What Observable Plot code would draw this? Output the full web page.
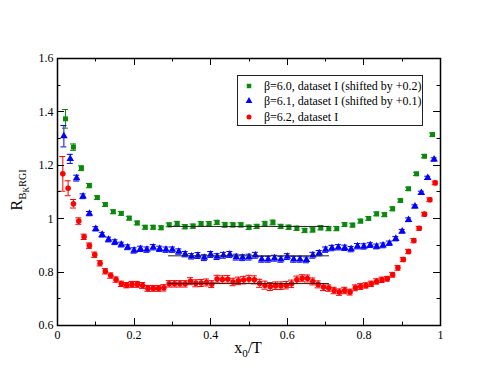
<!DOCTYPE html>
<html><head><meta charset="utf-8">
<script src="https://cdn.jsdelivr.net/npm/d3@7"></script>
<script src="https://cdn.jsdelivr.net/npm/@observablehq/plot@0.6"></script>
<style>
html,body{margin:0;padding:0;background:#fff;}
#chart{position:relative;width:495px;height:383px;overflow:hidden;}
#legend{position:absolute;left:237px;top:75px;width:184px;height:49px;border:1px solid #222;background:#fff;
  font-family:"Liberation Serif","Times New Roman",serif;font-size:12px;color:#000;}
#legend .row{position:absolute;left:0;height:15px;line-height:15px;white-space:nowrap;}
#legend svg{position:absolute;left:6px;top:2px;}
#legend span{position:absolute;left:26px;top:0;}
</style></head><body>
<div id="chart"><div id="legend"></div></div>
<script>
// ---- data ----
const seriesNames = ["β=6.0, dataset I (shifted by +0.2)", "β=6.1, dataset I (shifted by +0.1)", "β=6.2, dataset I"];
const seriesColors = ["#0a8a0a", "#0000ff", "#ff0000"];
const seriesSymbols = ["square", "triangle", "circle"];
const timeExtents = [48, 60, 72];

const beta60 = [
  1.374,1.268,1.189,1.124,1.079,1.053,1.026,1.020,1.002,0.984,
  0.968,0.968,0.966,0.977,0.982,0.970,0.972,0.981,0.981,0.986,
  0.977,0.977,0.977,0.968,0.971,0.981,0.986,0.971,0.968,0.964,
  0.956,0.958,0.966,0.963,0.963,0.978,0.976,0.991,1.001,1.018,
  1.015,1.037,1.068,1.112,1.168,1.234,1.315];
const beta60Err = [
  0.035,0.012,0.009,0.008,0.007,0.007,0.007,0.007,0.007,0.007,
  0.007,0.007,0.007,0.007,0.008,0.008,0.008,0.008,0.008,0.008,
  0.009,0.008,0.008,0.008,0.008,0.009,0.009,0.008,0.008,0.008,
  0.008,0.008,0.008,0.008,0.008,0.007,0.007,0.007,0.007,0.007,
  0.007,0.007,0.006,0.006,0.006,0.006,0.006];

const beta61 = [
  1.309,1.224,1.152,1.084,1.019,0.962,0.940,0.922,0.912,0.903,
  0.893,0.881,0.887,0.884,0.893,0.887,0.884,0.884,0.877,0.867,
  0.859,0.862,0.854,0.866,0.858,0.863,0.866,0.856,0.854,0.856,
  0.863,0.848,0.848,0.852,0.848,0.858,0.848,0.848,0.846,0.863,
  0.871,0.884,0.890,0.893,0.891,0.886,0.897,0.896,0.901,0.896,
  0.900,0.908,0.925,0.953,0.996,1.046,1.097,1.153,1.222];
const beta61Err = [
  0.040,0.017,0.011,0.009,0.008,0.008,0.009,0.009,0.009,0.009,
  0.009,0.010,0.010,0.010,0.010,0.010,0.010,0.010,0.010,0.010,
  0.010,0.011,0.011,0.011,0.011,0.011,0.011,0.011,0.011,0.011,
  0.011,0.011,0.011,0.011,0.011,0.011,0.011,0.011,0.011,0.011,
  0.010,0.010,0.010,0.010,0.010,0.010,0.010,0.010,0.009,0.009,
  0.009,0.008,0.008,0.007,0.007,0.006,0.006,0.006,0.006];

const beta62 = [
  1.168,1.114,1.056,0.991,0.932,0.899,0.865,0.833,0.803,0.787,
  0.772,0.756,0.751,0.754,0.754,0.750,0.739,0.739,0.739,0.741,
  0.756,0.756,0.756,0.756,0.766,0.758,0.759,0.761,0.755,0.774,
  0.772,0.773,0.763,0.767,0.770,0.773,0.771,0.758,0.751,0.746,
  0.749,0.749,0.751,0.756,0.771,0.777,0.776,0.765,0.754,0.744,
  0.740,0.731,0.725,0.731,0.725,0.741,0.746,0.750,0.756,0.765,
  0.771,0.775,0.790,0.816,0.847,0.877,0.918,0.964,1.017,1.071,1.134];
const beta62Err = [
  0.065,0.028,0.016,0.012,0.010,0.010,0.010,0.010,0.010,0.010,
  0.010,0.010,0.010,0.011,0.011,0.011,0.011,0.011,0.011,0.012,
  0.012,0.012,0.012,0.012,0.013,0.013,0.013,0.013,0.013,0.014,
  0.014,0.014,0.014,0.014,0.014,0.015,0.015,0.015,0.015,0.015,
  0.014,0.014,0.014,0.014,0.014,0.013,0.013,0.013,0.013,0.013,
  0.012,0.012,0.012,0.012,0.011,0.011,0.011,0.010,0.010,0.010,
  0.010,0.009,0.009,0.009,0.008,0.008,0.008,0.007,0.007,0.007,0.007];

// plateau fits
const plateauValues = [0.971, 0.861, 0.757];
const plateauStart = [0.29, 0.29, 0.29];
const plateauEnd = [0.71, 0.71, 0.71];

// axes
const xDomain = [0, 1];
const yDomain = [0.6, 1.6];
const xMajorTicks = [0, 0.2, 0.4, 0.6, 0.8, 1];
const xMinorTicks = [0.1, 0.3, 0.5, 0.7, 0.9];
const yMajorTicks = [0.6, 0.8, 1.0, 1.2, 1.4, 1.6];
const yMinorTicks = [0.7, 0.9, 1.1, 1.3, 1.5];

// ---- build table ----
const allVals = [beta60, beta61, beta62];
const allErrs = [beta60Err, beta61Err, beta62Err];
const rows = allVals.flatMap((vals, s) => vals.map((v, i) => ({
  series: seriesNames[s], x: (i + 1) / timeExtents[s], y: v, e: allErrs[s][i]
})));
const plateauRows = plateauValues.map((v, i) => ({v, x1: plateauStart[i], x2: plateauEnd[i]}));

const fmt = d => String(+d.toFixed(2));
const font = '"Liberation Serif","Times New Roman",serif';
const MAJ = 7, MIN = 3.5;

const chart = Plot.plot({
  width: 495, height: 383,
  marginLeft: 57, marginRight: 55, marginTop: 58, marginBottom: 58,
  style: {fontFamily: font, fontSize: "12px", background: "#fff", color: "#000", overflow: "visible"},
  x: {domain: xDomain, label: null},
  y: {domain: yDomain, label: null},
  color: {domain: seriesNames, range: seriesColors},
  symbol: {domain: seriesNames, range: seriesSymbols},
  marks: [
    Plot.ruleX(rows, {x: "x", y1: d => d.y - d.e, y2: d => d.y + d.e, stroke: "series", strokeWidth: 1}),
    Plot.ruleY(rows, {y: d => d.y + d.e, x1: "x", x2: "x", insetLeft: -3, insetRight: -3, stroke: "series", strokeWidth: 1}),
    Plot.ruleY(rows, {y: d => d.y - d.e, x1: "x", x2: "x", insetLeft: -3, insetRight: -3, stroke: "series", strokeWidth: 1}),
    Plot.dot(rows, {x: "x", y: "y", symbol: "series", fill: "series", r: 2.8}),
    Plot.ruleY(plateauRows, {y: "v", x1: "x1", x2: "x2", stroke: "#222", strokeWidth: 1}),
    Plot.frame({stroke: "#000", strokeWidth: 1.5}),
    Plot.axisX(xMajorTicks, {anchor: "bottom", tickSize: 0, tickPadding: 5, tickFormat: fmt, label: null, fontSize: 12}),
    Plot.axisY(yMajorTicks, {anchor: "left", tickSize: 0, tickPadding: 4, tickFormat: fmt, label: null, fontSize: 12})
  ]
});
document.getElementById("chart").prepend(chart);

// inward ticks on all four sides, placed with Plot's own scales
const svg = d3.select(chart);
const sx = chart.scale("x"), sy = chart.scale("y");
const X0 = sx.apply(xDomain[0]), X1 = sx.apply(xDomain[1]);
const Y0 = sy.apply(yDomain[0]), Y1 = sy.apply(yDomain[1]);
const tg = svg.append("g").attr("stroke", "#000").attr("stroke-width", 1);
[[xMajorTicks, MAJ], [xMinorTicks, MIN]].forEach(([ticks, len]) => ticks.forEach(t => {
  const px = Math.round(sx.apply(t)) + 0.5;
  tg.append("line").attr("x1", px).attr("x2", px).attr("y1", Y0).attr("y2", Y0 - len);
  tg.append("line").attr("x1", px).attr("x2", px).attr("y1", Y1).attr("y2", Y1 + len);
}));
[[yMajorTicks, MAJ], [yMinorTicks, MIN]].forEach(([ticks, len]) => ticks.forEach(t => {
  const py = Math.round(sy.apply(t)) + 0.5;
  tg.append("line").attr("y1", py).attr("y2", py).attr("x1", X0).attr("x2", X0 + len);
  tg.append("line").attr("y1", py).attr("y2", py).attr("x1", X1).attr("x2", X1 - len);
}));

// axis titles
const xl = svg.append("text").attr("x", 248).attr("y", 353).attr("text-anchor", "middle")
  .attr("font-family", font).attr("font-size", 16).attr("fill", "#000");
xl.append("tspan").text("x");
xl.append("tspan").attr("dy", 4).attr("font-size", 11).text("0");
xl.append("tspan").attr("dy", -4).text("/T");

const yl = svg.append("text").attr("transform", "translate(22,190) rotate(-90)").attr("text-anchor", "middle")
  .attr("font-family", font).attr("font-size", 16).attr("fill", "#000");
yl.append("tspan").text("R");
yl.append("tspan").attr("dy", 4).attr("font-size", 11).text("B");
yl.append("tspan").attr("dy", 3).attr("font-size", 8).text("K");
yl.append("tspan").attr("dy", -3).attr("font-size", 10).text("RGI");

// legend
const legend = d3.select("#legend");
seriesNames.forEach((name, i) => {
  const row = legend.append("div").attr("class", "row").style("top", (2.5 + i * 15.5) + "px").style("width", "184px");
  const s = row.append("svg").attr("width", 10).attr("height", 10);
  const sym = d3.symbol().type([d3.symbolSquare, d3.symbolTriangle, d3.symbolCircle][i]).size(20);
  s.append("path").attr("d", sym()).attr("transform", "translate(5,5)").attr("fill", seriesColors[i]);
  row.append("span").text(name);
});
</script>
</body></html>
